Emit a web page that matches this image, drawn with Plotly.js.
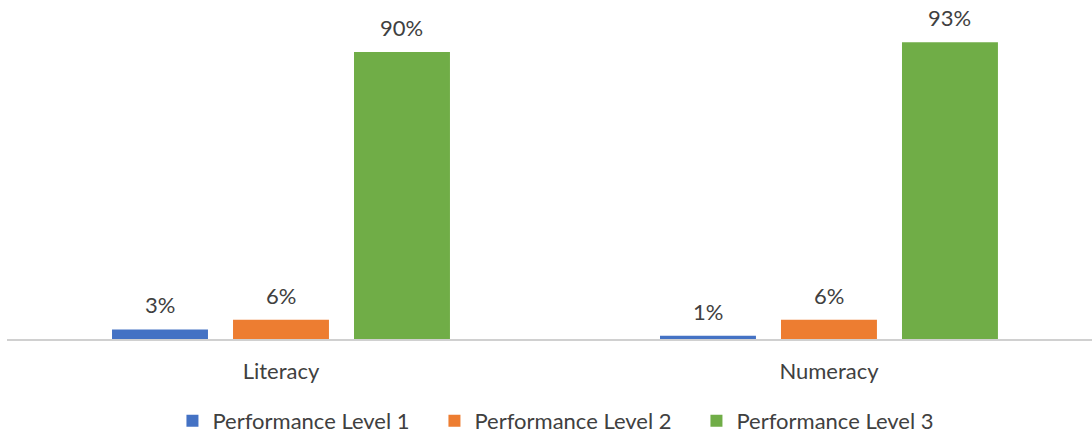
<!DOCTYPE html>
<html>
<head>
<meta charset="utf-8">
<script src="https://cdn.plot.ly/plotly-3.0.1.min.js"></script>
<style>html,body{margin:0;padding:0;background:#fff;}#chart{width:1092px;height:433px;}</style>
</head>
<body>
<div id="chart"></div>
<script>
const categories = ["Literacy", "Numeracy"];
const seriesNames = ["Performance Level 1", "Performance Level 2", "Performance Level 3"];
const level1 = [3, 1];
const level2 = [6, 6];
const level3 = [90, 93];
const colors = ["#4472C4", "#ED7D31", "#70AD47"];

const seriesValues = [level1, level2, level3];
const FONT = "Lato, 'Open Sans', sans-serif";
const TEXTCOLOR = "#404040";

const traces = seriesValues.map((vals, i) => ({
  type: "bar",
  name: seriesNames[i],
  x: categories,
  y: vals,
  marker: {color: colors[i]},
  hoverinfo: "skip"
}));

const slot = 121;
const annotations = [];
seriesValues.forEach((vals, i) => {
  vals.forEach((v, j) => {
    annotations.push({
      x: categories[j], y: v, xref: "x", yref: "y",
      text: v + "%", showarrow: false,
      xanchor: "center", yanchor: "bottom",
      xshift: (i - 1) * slot, yshift: 9,
      font: {family: FONT, size: 22, color: TEXTCOLOR}
    });
  });
});

const layout = {
  width: 1092, height: 433,
  margin: {l: 7, r: 0, t: 20, b: 94, autoexpand: false},
  paper_bgcolor: "#ffffff", plot_bgcolor: "#ffffff",
  barmode: "group",
  bargap: 0.3376,
  bargroupgap: 0.207,
  showlegend: true,
  legend: {
    orientation: "h", yref: "paper",
    x: 0.5147, xanchor: "center", y: -0.257, yanchor: "middle",
    font: {family: FONT, size: 22, color: TEXTCOLOR},
    entrywidth: 217, entrywidthmode: "pixels",
    traceorder: "normal"
  },
  xaxis: {
    type: "category",
    range: [-0.5, 1.48],
    showline: true, linecolor: "#d0d0d0", linewidth: 1.5,
    ticks: "outside", ticklen: 12, tickcolor: "rgba(0,0,0,0)",
    tickfont: {family: FONT, size: 22, color: TEXTCOLOR},
    showgrid: false, zeroline: false, fixedrange: true
  },
  yaxis: {
    range: [0, 100],
    visible: false, showgrid: false, zeroline: false, fixedrange: true
  },
  annotations: annotations,
  font: {family: FONT, color: TEXTCOLOR}
};

Plotly.newPlot("chart", traces, layout, {staticPlot: true, displayModeBar: false});
</script>
</body>
</html>
